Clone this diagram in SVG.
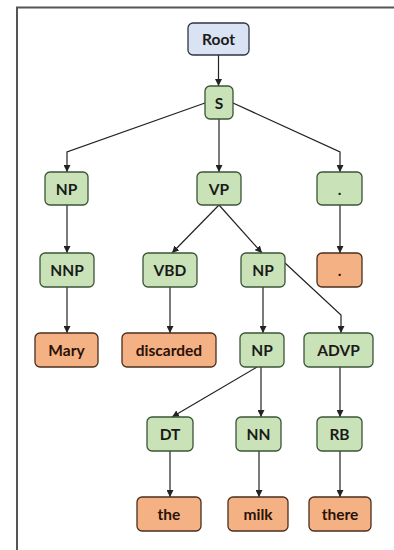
<svg xmlns="http://www.w3.org/2000/svg" width="394" height="550" viewBox="0 0 394 550">
<defs>
<marker id="ah" viewBox="0 0 10 10" refX="10" refY="5" markerWidth="7" markerHeight="7" markerUnits="userSpaceOnUse" orient="auto"><path d="M0,0 L10,5 L0,10 z" fill="#222"/></marker>
<style>
.b rect{stroke-width:1.3}
.root rect{fill:#dae3f3;stroke:#2f3542}
.g rect{fill:#c9e2b8;stroke:#3b5437}
.o rect{fill:#f4b183;stroke:#4a2e1e}
text{font-family:Lato,"Open Sans","Liberation Sans",sans-serif;font-weight:bold;font-size:15.5px;text-anchor:middle;dominant-baseline:central;fill:#1a1a1a}
.o text{fill:#2a1208}
#edges path{fill:none;stroke:#222;stroke-width:1.2;marker-end:url(#ah)}
</style>
</defs>
<rect x="0" y="0" width="394" height="550" fill="#fff"/>
<path d="M17,550 V7.5 H394" fill="none" stroke="#555" stroke-width="2"/>
<g id="edges">
<path d="M218.5,55 V86"/>
<path d="M205,103 L67,152 V172"/>
<path d="M219,119 V172"/>
<path d="M233,103 L340,152 V172"/>
<path d="M67,205 V253"/>
<path d="M219,205 L172,253"/>
<path d="M219,205 L262,253"/>
<path d="M340,205 V253"/>
<path d="M67,287 V333"/>
<path d="M170,287 V333"/>
<path d="M263,287 V333"/>
<path d="M285,263 L341,315 V333"/>
<path d="M257,367 L172,417"/>
<path d="M261,367 V417"/>
<path d="M340,367 V417"/>
<path d="M170,451 V497"/>
<path d="M259,451 V497"/>
<path d="M340,451 V497"/>
</g>
<g id="n-root" class="b root"><rect x="188" y="23" width="61" height="32" rx="5"/><text x="218.5" y="39">Root</text></g>
<g id="n-s" class="b g"><rect x="205" y="86" width="28" height="33" rx="5"/><text x="219" y="102.5">S</text></g>
<g id="n-np1" class="b g"><rect x="45" y="172" width="43" height="33" rx="5"/><text x="66.5" y="188.5">NP</text></g>
<g id="n-vp" class="b g"><rect x="197" y="172" width="44" height="33" rx="5"/><text x="219" y="188.5">VP</text></g>
<g id="n-punct" class="b g"><rect x="317" y="172" width="45" height="33" rx="5"/><text x="339.5" y="188.5">.</text></g>
<g id="n-nnp" class="b g"><rect x="40" y="253" width="54" height="34" rx="5"/><text x="67" y="270">NNP</text></g>
<g id="n-vbd" class="b g"><rect x="143" y="253" width="54" height="34" rx="5"/><text x="170" y="270">VBD</text></g>
<g id="n-np2" class="b g"><rect x="241" y="253" width="44" height="34" rx="5"/><text x="263" y="270">NP</text></g>
<g id="n-dot" class="b o"><rect x="317" y="253" width="45" height="34" rx="5"/><text x="339.5" y="270">.</text></g>
<g id="n-mary" class="b o"><rect x="35" y="333" width="63" height="34" rx="5"/><text x="66.5" y="350">Mary</text></g>
<g id="n-discarded" class="b o"><rect x="122" y="333" width="94" height="34" rx="5"/><text x="169" y="350">discarded</text></g>
<g id="n-np3" class="b g"><rect x="240" y="333" width="44" height="34" rx="5"/><text x="262" y="350">NP</text></g>
<g id="n-advp" class="b g"><rect x="304" y="333" width="69" height="34" rx="5"/><text x="338.5" y="350">ADVP</text></g>
<g id="n-dt" class="b g"><rect x="147" y="417" width="46" height="34" rx="5"/><text x="170" y="434">DT</text></g>
<g id="n-nn" class="b g"><rect x="236" y="417" width="45" height="34" rx="5"/><text x="258.5" y="434">NN</text></g>
<g id="n-rb" class="b g"><rect x="317" y="417" width="45" height="34" rx="5"/><text x="339.5" y="434">RB</text></g>
<g id="n-the" class="b o"><rect x="137" y="497" width="64" height="34" rx="5"/><text x="169" y="514">the</text></g>
<g id="n-milk" class="b o"><rect x="228" y="497" width="60" height="34" rx="5"/><text x="258" y="514">milk</text></g>
<g id="n-there" class="b o"><rect x="309" y="497" width="62" height="34" rx="5"/><text x="340" y="514">there</text></g>
</svg>
